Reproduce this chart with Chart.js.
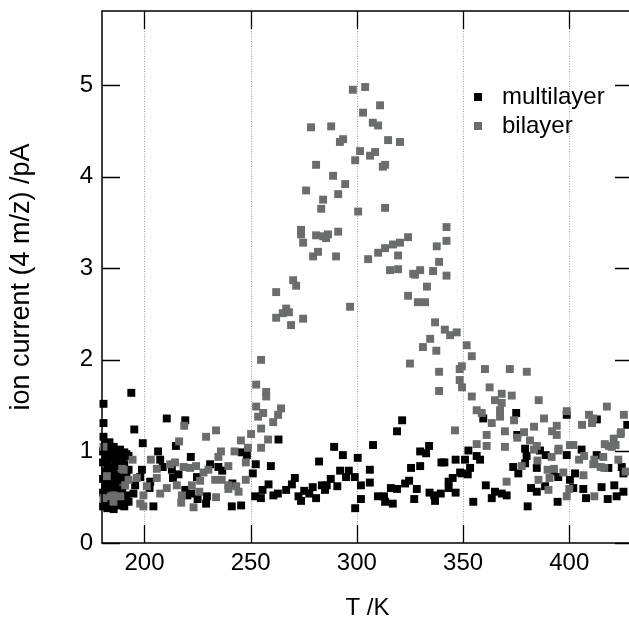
<!DOCTYPE html>
<html>
<head>
<meta charset="utf-8">
<script src="https://cdn.jsdelivr.net/npm/chart.js@4.4.0/dist/chart.umd.min.js"></script>
<style>
html, body { margin: 0; padding: 0; background: #fff; overflow: hidden; }
#wrap { width: 629px; height: 622px; overflow: hidden; }
</style>
</head>
<body>
<div id="wrap"><canvas id="chart-tpd" width="640" height="622"></canvas></div>
<script>
// tick values and labels
var xTickValues = [200, 250, 300, 350, 400];
var yTickValues = [0, 1, 2, 3, 4, 5];
var xTitle = 'T /K';
var yTitle = 'ion current (4 m/z) /pA';
var seriesNames = ['multilayer', 'bilayer'];
var seriesColors = ['#000000', '#6b6d6d'];

// multilayer: [T in K, ion current in pA]
var multilayerPoints = [
  [180.5,0.40],[180.5,0.55],[180.5,0.70],[180.5,0.88],[180.5,1.00],[180.7,1.16],
  [181.5,0.45],[181.5,0.62],[181.5,0.78],[181.5,0.95],[181.5,1.08],
  [182.5,0.38],[182.5,0.52],[182.5,0.68],[182.5,0.85],[182.5,1.02],
  [183.5,0.48],[183.5,0.60],[183.5,0.75],[183.5,0.92],[183.5,1.10],
  [184.5,0.42],[184.5,0.57],[184.5,0.72],[184.5,0.83],[184.5,0.98],
  [185.5,0.37],[185.5,0.66],[185.5,0.80],[185.5,0.94],[185.5,1.05],
  [186.5,0.50],[186.5,0.62],[186.5,0.88],[186.5,1.00],
  [187.5,0.41],[187.5,0.58],[187.5,0.74],[187.5,0.96],
  [188.5,0.46],[188.5,0.69],[188.5,0.84],[188.5,1.02],
  [189.5,0.55],[189.5,0.77],[189.5,0.93],
  [190.5,0.40],[190.5,0.63],[190.5,0.86],[190.5,0.99],
  [191.5,0.52],[191.5,0.72],[191.5,0.97],
  [192.5,0.45],[192.5,0.80],[192.5,0.95],
  [193.8,1.64],[180.7,1.52],[180.7,1.31],[195.2,1.24],[210.5,1.36],[219.2,1.34],
  [199.2,1.09],[214.8,1.06],[206.4,1.00],[221.8,0.94],[259.5,0.84],[263.1,1.13],
  [252.4,0.86],[251.0,0.76],[248.2,0.96],[245.8,0.99],[230.9,0.86],[234.8,0.83],
  [236.6,0.79],[207.4,0.91],[208.6,0.83],[212.9,0.80],[216.0,0.75],[213.4,0.71],
  [224.7,0.72],[198.8,0.80],[198.0,0.72],[202.7,0.67],[202.4,0.60],[195.6,0.63],
  [194.8,0.54],[219.2,0.58],[222.0,0.54],[225.0,0.48],[229.4,0.51],[229.0,0.43],
  [220.2,0.52],[241.1,0.40],[245.5,0.41],[241.4,0.65],[204.2,0.40],[189.6,0.43],
  [252.1,0.51],[255.6,0.58],[258.4,0.64],[260.7,0.52],[262.8,0.54],[254.8,0.49],
  [289.3,1.05],[293.4,0.96],[282.2,0.89],[300.4,0.93],[307.6,1.07],[321.3,1.34],
  [318.9,1.22],[292.1,0.79],[296.2,0.79],[294.9,0.72],[299.0,0.72],[306.1,0.80],
  [301.9,0.63],[306.1,0.66],[287.7,0.70],[290.8,0.62],[285.8,0.63],[283.5,0.63],
  [285.0,0.58],[279.2,0.61],[270.8,0.71],[269.4,0.64],[266.7,0.58],[275.2,0.57],
  [277.6,0.54],[272.5,0.51],[273.7,0.46],[280.8,0.49],[301.9,0.48],[299.2,0.38],
  [309.9,0.51],[312.8,0.51],[313.3,0.45],[316.9,0.43],[316.0,0.60],[318.9,0.59],
  [322.7,0.65],[324.6,0.68],[328.2,0.59],[327.0,0.48],[325.5,0.82],[329.8,0.84],
  [329.8,1.00],[332.6,0.98],[334.0,1.06],[334.2,0.55],[336.8,0.46],[336.4,0.52],
  [339.5,0.54],[339.8,0.88],[341.2,0.88],[346.5,0.91],[343.2,0.67],[345.1,0.71],
  [343.2,0.60],[346.5,0.55],[348.6,0.77],
  [375.0,1.42],[359.5,1.36],[427.3,1.29],[413.0,1.35],[398.8,1.40],[375.5,1.18],
  [352.5,1.01],[356.4,0.95],[358.0,0.91],[350.9,0.91],[353.3,0.82],[349.4,0.76],
  [352.2,0.75],[360.7,0.63],[365.0,0.56],[368.2,0.54],[370.5,0.52],[363.5,0.49],
  [354.8,0.45],[379.2,1.03],[379.9,0.95],[386.2,1.01],[388.9,0.96],[379.2,0.87],
  [373.6,0.83],[384.7,0.82],[376.0,0.76],[392.5,0.78],[394.8,0.72],[398.8,0.96],
  [402.7,0.76],[400.3,0.69],[401.9,0.60],[405.8,1.02],[412.9,0.96],[418.4,0.82],
  [424.7,0.83],[425.5,0.76],[382.0,0.60],[384.7,0.56],[388.6,0.62],[380.4,0.40],
  [394.5,0.45],[406.6,0.59],[407.9,0.49],[415.2,0.61],[418.1,0.48],[421.2,0.63],
  [422.3,0.51],[425.5,0.56]
];

// bilayer: [T in K, ion current in pA]
var bilayerPoints = [
  [298.1,4.95],[303.9,4.98],[310.9,4.78],[302.9,4.70],[307.5,4.59],[310.0,4.56],
  [278.4,4.54],[287.9,4.55],[293.5,4.41],[292.0,4.38],[314.7,4.40],[320.3,4.38],
  [301.5,4.28],[308.6,4.27],[306.2,4.23],[299.2,4.18],[313.3,4.13],[312.2,4.11],
  [280.8,4.13],[288.8,4.01],[294.5,3.92],[276.1,3.85],[291.2,3.81],[284.1,3.75],
  [283.2,3.65],[300.6,3.62],[313.3,3.66],[273.7,3.42],[273.7,3.37],[274.7,3.28],
  [280.8,3.36],[284.2,3.35],[286.4,3.37],[285.5,3.33],[291.2,3.40],[281.7,3.18],
  [279.4,3.13],[290.2,3.13],[324.1,3.34],[320.3,3.28],[317.0,3.26],[313.3,3.22],
  [310.0,3.17],[319.4,3.14],[305.3,3.10],[337.6,3.24],[338.7,3.07],[342.2,3.45],
  [342.2,3.30],[342.2,2.92],
  [315.6,2.98],[319.4,2.99],[326.5,2.94],[329.8,2.98],[327.4,2.93],[335.9,2.97],
  [270.0,2.87],[271.4,2.81],[262.0,2.74],[333.0,2.80],[324.1,2.70],[328.7,2.63],
  [332.1,2.63],[296.8,2.58],[266.7,2.56],[265.1,2.51],[268.0,2.52],[262.0,2.46],
  [274.7,2.45],[269.0,2.38],[336.8,2.41],[334.5,2.23],[331.1,2.14],[337.4,2.10],
  [325.0,1.96],[338.7,1.87],[338.7,1.66],[254.9,2.00],[252.6,1.73],[257.3,1.65],
  [257.3,1.60],[252.6,1.49],[255.9,1.42],[253.5,1.38],[264.3,1.47],[262.9,1.40],
  [260.6,1.32],[254.9,1.25],[250.2,1.19],[258.2,1.13],
  [341.4,2.33],[343.9,2.27],[347.0,2.30],[351.7,2.16],[354.1,2.04],[349.4,1.93],
  [348.4,1.90],[348.4,1.78],[349.5,1.70],[360.3,1.90],[372.0,1.90],[380.0,1.87],
  [362.5,1.70],[354.1,1.60],[368.2,1.63],[372.9,1.61],[365.0,1.56],[368.2,1.53],
  [385.6,1.56],[356.4,1.45],[358.8,1.42],[367.4,1.45],[367.4,1.38],[363.5,1.31],
  [374.0,1.34],[388.1,1.36],[398.8,1.44],[346.2,1.23],[369.7,1.22],[383.4,1.27],
  [394.1,1.28],[391.9,1.22],[394.1,1.18],[361.1,1.18],[378.7,1.21],[375.5,1.15],
  [381.5,1.12],[356.4,1.08],[361.1,1.06],[369.7,1.05],[400.3,1.07],[401.9,1.07],
  [395.0,1.03],[406.0,1.29],[409.3,1.40],[411.3,1.36],[410.7,1.31],[417.7,1.49],
  [425.7,1.40],[424.2,1.19],[420.9,1.14],[416.7,1.08],[420.0,1.05],
  [385.0,0.90],[391.7,0.94],[392.8,0.81],[389.8,0.80],[377.6,0.84],[397.2,0.77],
  [390.7,0.71],[385.5,0.69],[370.5,0.67],[390.2,0.58],[398.8,0.51],[400.0,0.59],
  [394.8,1.01],[404.6,0.91],[407.0,0.95],[406.7,0.74],[411.3,0.86],[411.8,0.91],
  [416.0,0.94],[416.5,0.82],[414.8,0.83],[423.1,0.91],[426.5,0.78],[411.8,0.51],
  [383.4,1.02],[384.7,1.06],[418.6,1.06],[421.8,1.07],[424.3,1.21],
  [218.7,1.28],[233.7,1.23],[229.0,1.16],[216.3,1.11],[245.4,1.12],[248.7,1.04],
  [254.9,1.04],[242.4,1.00],[236.0,1.00],[234.8,0.94],[239.5,0.84],[247.7,0.88],
  [194.4,0.91],[203.0,0.91],[212.1,0.86],[214.4,0.88],[218.4,0.83],[221.5,0.82],
  [224.3,0.84],[205.8,0.81],[189.5,0.81],[182.3,0.73],[180.7,1.05],[227.8,0.77],
  [230.1,0.80],[205.8,0.71],[196.4,0.71],[192.5,0.69],[190.9,0.63],[201.1,0.62],
  [210.5,0.60],[215.2,0.63],[222.3,0.63],[226.2,0.68],[225.8,0.56],[233.3,0.69],
  [236.4,0.69],[239.5,0.63],[243.2,0.62],[247.7,0.69],[244.3,0.56],[239.5,0.59],
  [207.4,0.54],[217.6,0.52],[217.3,0.44],[199.5,0.52],[185.4,0.52],[188.6,0.51],
  [198.0,0.43],[199.5,0.40],[185.4,0.45],[223.1,0.39],[233.7,0.50],[180.7,0.49],
  [184.2,0.51],[190.2,0.80]
];

var fontFamily = "'Liberation Sans', Arial, Helvetica, sans-serif";

function toXY(list) {
    return list.map(function (p) { return {x: p[0], y: p[1]}; });
}

// frame, inward ticks, dotted grid and the in-plot legend
var framePlugin = {
    id: 'framePlugin',
    beforeDatasetsDraw: function (chart) {
        var ctx = chart.ctx, a = chart.chartArea, xs = chart.scales.x;
        ctx.save();
        ctx.strokeStyle = '#a0a0a0';
        ctx.lineWidth = 1;
        ctx.setLineDash([1, 1.5]);
        xTickValues.forEach(function (v) {
            var px = Math.round(xs.getPixelForValue(v)) + 0.5;
            ctx.beginPath();
            ctx.moveTo(px, a.top);
            ctx.lineTo(px, a.bottom);
            ctx.stroke();
        });
        ctx.restore();
    },
    afterDatasetsDraw: function (chart) {
        var ctx = chart.ctx, a = chart.chartArea;
        var xs = chart.scales.x, ys = chart.scales.y;
        var len = 18;
        ctx.save();
        ctx.strokeStyle = '#000';
        ctx.lineWidth = 1.5;
        ctx.strokeRect(a.left, a.top, a.right - a.left, a.bottom - a.top);
        ctx.lineWidth = 1.3;
        xTickValues.forEach(function (v) {
            var px = Math.round(xs.getPixelForValue(v)) + 0.5;
            ctx.beginPath();
            ctx.moveTo(px, a.bottom); ctx.lineTo(px, a.bottom - len);
            ctx.moveTo(px, a.top); ctx.lineTo(px, a.top + len);
            ctx.stroke();
        });
        yTickValues.forEach(function (v) {
            var py = Math.round(ys.getPixelForValue(v)) + 0.5;
            ctx.beginPath();
            ctx.moveTo(a.left, py); ctx.lineTo(a.left + len, py);
            ctx.moveTo(a.right, py); ctx.lineTo(a.right - len, py);
            ctx.stroke();
        });

        // legend
        ctx.font = '24px ' + fontFamily;
        ctx.textBaseline = 'middle';
        ctx.textAlign = 'left';
        chart.data.datasets.forEach(function (ds, i) {
            var cy = 97 + i * 29;
            ctx.fillStyle = ds.backgroundColor;
            ctx.fillRect(474, cy - 4, 8, 8);
            ctx.fillStyle = '#000';
            ctx.fillText(ds.label, 502, cy);
        });
        ctx.restore();
    }
};

var chartTpd = new Chart(document.getElementById('chart-tpd').getContext('2d'), {
    type: 'scatter',
    data: {
        datasets: [{
            label: seriesNames[0],
            data: toXY(multilayerPoints),
            backgroundColor: seriesColors[0],
            pointStyle: 'rect',
            pointRadius: 5.6,
            pointBorderWidth: 0,
            clip: false,
            order: 1
        }, {
            label: seriesNames[1],
            data: toXY(bilayerPoints),
            backgroundColor: seriesColors[1],
            pointStyle: 'rect',
            pointRadius: 5.6,
            pointBorderWidth: 0,
            clip: false,
            order: 0
        }]
    },
    options: {
        responsive: false,
        animation: false,
        events: [],
        layout: { padding: { top: 11, right: 7, left: 0, bottom: 0 } },
        plugins: {
            legend: { display: false },
            tooltip: { enabled: false }
        },
        scales: {
            x: {
                type: 'linear',
                min: 180,
                max: 430,
                grid: { display: false, drawTicks: false },
                border: { display: false },
                afterBuildTicks: function (s) { s.ticks = xTickValues.map(function (v) { return {value: v}; }); },
                afterFit: function (s) { s.height = 79; s.paddingLeft = 0; s.paddingRight = 0; },
                ticks: { color: '#000', font: { family: fontFamily, size: 24 }, padding: 6, maxRotation: 0 },
                title: {
                    display: true,
                    text: xTitle,
                    color: '#000',
                    font: { family: fontFamily, size: 24, lineHeight: 1 },
                    padding: { top: 0, bottom: 2 }
                }
            },
            y: {
                type: 'linear',
                min: 0,
                max: 5.81,
                grid: { display: false, drawTicks: false },
                border: { display: false },
                afterBuildTicks: function (s) { s.ticks = yTickValues.map(function (v) { return {value: v}; }); },
                afterFit: function (s) { s.width = 102; s.paddingTop = 0; s.paddingBottom = 0; },
                ticks: { color: '#000', font: { family: fontFamily, size: 24 }, padding: 9 },
                title: {
                    display: true,
                    text: yTitle,
                    color: '#000',
                    font: { family: fontFamily, size: 27, lineHeight: 1.2 },
                    padding: { top: 5, bottom: 0 }
                }
            }
        }
    },
    plugins: [framePlugin]
});
</script>
</body>
</html>
